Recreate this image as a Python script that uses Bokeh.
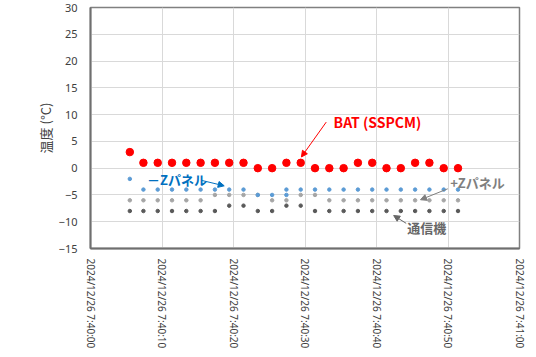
from bokeh.plotting import figure
from bokeh.models import FixedTicker, Range1d, Arrow, NormalHead, Label
from bokeh.embed import file_html
from bokeh.resources import INLINE

# seconds after 2024/12/26 7:40:00
times = [5.5, 7.4, 9.4, 11.4, 13.4, 15.4, 17.4, 19.4, 21.4, 23.4, 25.4, 27.4,
         29.4, 31.4, 33.4, 35.4, 37.4, 39.4, 41.4, 43.4, 45.4, 47.4, 49.4, 51.4]
bat = [3, 1, 1, 1, 1, 1, 1, 1, 1, 0, 0, 1, 1, 0, 0, 0, 1, 1, 0, 0, 1, 1, 0, 0]
minus_z_times = [5.5, 7.4, 9.4, 11.4, 13.4, 15.4, 17.4, 19.4, 21.4, 23.4, 25.4, 27.4, 27.4,
                 29.4, 31.4, 33.4, 35.4, 37.4, 39.4, 41.4, 43.4, 45.4, 47.4, 49.4, 51.4]
minus_z = [-2, -4, -4, -4, -4, -4, -4, -4, -4, -5, -5, -4, -5,
           -4, -4, -4, -4, -4, -4, -4, -4, -4, -4, -4, -4]
plus_z = [-6, -6, -6, -6, -6, -6, -5, -5, -5, -5, -6, -6, -5, -5, -6, -6, -6, -6, -6, -6, -6, -6, -6, -6]
comm = [-8, -8, -8, -8, -8, -8, -8, -7, -7, -8, -8, -7, -7, -8, -8, -8, -8, -8, -8, -8, -8, -8, -8, -8]

x_ticks = [0, 10, 20, 30, 40, 50, 60]
x_tick_labels = ["2024/12/26 7:40:00", "2024/12/26 7:40:10", "2024/12/26 7:40:20",
                 "2024/12/26 7:40:30", "2024/12/26 7:40:40", "2024/12/26 7:40:50",
                 "2024/12/26 7:41:00"]
y_ticks = [-15, -10, -5, 0, 5, 10, 15, 20, 25, 30]

p = figure(width=536, height=357, output_backend="svg", toolbar_location=None,
           x_range=Range1d(0, 60), y_range=Range1d(-15, 30),
           min_border_left=90, min_border_right=17, min_border_top=7, min_border_bottom=109)
p.background_fill_color = "white"
p.border_fill_color = "white"
p.outline_line_color = "#808080"
p.outline_line_width = 1.5

p.xaxis.ticker = FixedTicker(ticks=x_ticks)
p.xaxis.major_label_overrides = {t: l for t, l in zip(x_ticks, x_tick_labels)}
p.xaxis.major_label_orientation = "vertical"
p.yaxis.ticker = FixedTicker(ticks=y_ticks)
for ax in (p.xaxis, p.yaxis):
    ax.axis_line_color = "#6f6f6f"
    ax.axis_line_width = 2
    ax.major_tick_line_color = None
    ax.minor_tick_line_color = None
    ax.major_tick_out = 0
    ax.major_tick_in = 0
    ax.minor_tick_out = 0
    ax.major_label_text_color = "#404040"
    ax.major_label_text_font = "Noto Sans"
p.xaxis.major_label_text_font_size = "10px"
p.yaxis.major_label_text_font_size = "11px"
p.xaxis.major_label_standoff = 10
p.yaxis.major_label_standoff = 13
p.yaxis.axis_label = "温度 (°C)"
p.yaxis.axis_label_text_font = "Noto Sans CJK JP"
p.yaxis.axis_label_text_font_style = "normal"
p.yaxis.axis_label_text_font_size = "13px"
p.yaxis.axis_label_text_color = "#404040"
p.yaxis.axis_label_standoff = 1

p.xgrid.ticker = FixedTicker(ticks=x_ticks)
p.ygrid.ticker = FixedTicker(ticks=y_ticks)
p.grid.grid_line_color = "#d9d9d9"
p.grid.grid_line_width = 1

p.scatter(times, plus_z, size=3.5, color="#a5a5a5")
p.scatter(times, comm, size=3.5, color="#595959")
p.scatter(minus_z_times, minus_z, size=3.5, color="#5b9bd5")
p.scatter(times, bat, size=7.5, color="#ff0000")

def note(text, x, y, color, size):
    p.add_layout(Label(x=x, y=y, text=text, text_color=color, text_font="Noto Sans CJK JP",
                       text_font_style="bold", text_font_size=size, text_baseline="middle",
                       text_align="left"))

def arrow(x0, y0, x1, y1, color):
    p.add_layout(Arrow(end=NormalHead(size=6, fill_color=color, line_color=color),
                       x_start=x0, y_start=y0, x_end=x1, y_end=y1,
                       line_color=color, line_width=1))

note("BAT (SSPCM)", 34.0, 8.6, "#ff0000", "14px")
arrow(32.97, 8.6, 29.5, 2.1, "#ff0000")
note("－Zパネル", 7.9, -2.1, "#0070c0", "13px")
arrow(15.6, -2.3, 18.7, -3.3, "#0070c0")
note("+Zパネル", 50.3, -2.7, "#7f7f7f", "13px")
arrow(49.97, -3.85, 46.15, -5.9, "#7f7f7f")
note("通信機", 44.3, -11.1, "#666666", "13px")
arrow(44.15, -10.3, 42.4, -8.84, "#666666")

open("out.html", "w").write(file_html(p, INLINE))
